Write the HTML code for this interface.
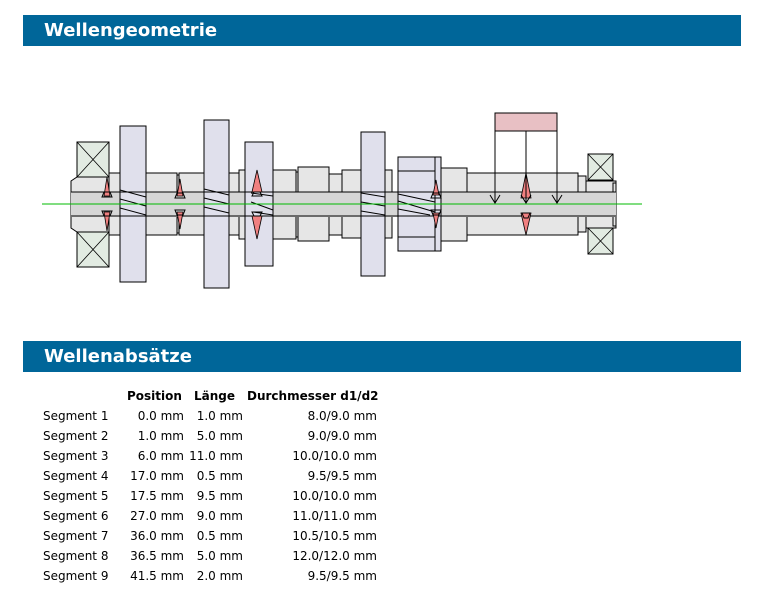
<!DOCTYPE html>
<html><head><meta charset="utf-8">
<style>
html,body{margin:0;padding:0;background:#fff;width:763px;height:590px;overflow:hidden;position:relative;font-family:"DejaVu Sans","Liberation Sans",sans-serif;}
.bar{position:absolute;left:23px;width:718px;height:31px;background:#006699;color:#fff;font-weight:bold;font-size:18px;line-height:31px;}
.bar span{position:absolute;left:21px;top:0;}
.t{position:absolute;font-size:12px;color:#000;white-space:nowrap;line-height:14px;}
.r{text-align:right;}
</style></head><body>
<div class="bar" style="top:15px"><span>Wellengeometrie</span></div>
<div class="bar" style="top:341px"><span>Wellenabsätze</span></div>

<svg width="763" height="590" style="position:absolute;left:0;top:0" xmlns="http://www.w3.org/2000/svg">
<g stroke="#000" stroke-width="1" fill="#e6e6e6">
<polygon points="71,181 77,177 109,177 109,232 77,232 71,228"/>
<rect x="109" y="173" width="68" height="62"/>
<rect x="177" y="175" width="2" height="58"/>
<rect x="179" y="173" width="60" height="62"/>
<rect x="239" y="170" width="57" height="69"/>
<rect x="296" y="172" width="2" height="65"/>
<rect x="298" y="167" width="31" height="74"/>
<rect x="329" y="174" width="13" height="61"/>
<rect x="342" y="170" width="50" height="68"/>
<rect x="441" y="168" width="26" height="73"/>
<rect x="467" y="173" width="111" height="62"/>
<rect x="578" y="176" width="8" height="56"/>
<rect x="586" y="181" width="30" height="47"/>
<rect x="613" y="183" width="3" height="43"/>
</g>
<rect x="71" y="192" width="545" height="25" fill="#d6d6d6" stroke="none"/>
<g stroke="#000" fill="#e2ebe2">
<rect x="77" y="142" width="32" height="35"/><rect x="77" y="232" width="32" height="35"/>
<rect x="588" y="154" width="25" height="26"/><rect x="588" y="228" width="25" height="26"/>
</g>
<g stroke="#000" stroke-width="0.8">
<line x1="77" y1="142" x2="109" y2="177"/><line x1="109" y1="142" x2="77" y2="177"/>
<line x1="77" y1="232" x2="109" y2="267"/><line x1="109" y1="232" x2="77" y2="267"/>
<line x1="588" y1="154" x2="613" y2="180"/><line x1="613" y1="154" x2="588" y2="180"/>
<line x1="588" y1="228" x2="613" y2="254"/><line x1="613" y1="228" x2="588" y2="254"/>
</g>
<g stroke="#000" fill="#e0e0ec">
<rect x="120" y="126" width="26" height="156"/>
<rect x="204" y="120" width="25" height="168"/>
<rect x="245" y="142" width="28" height="124"/>
<rect x="361" y="132" width="24" height="144"/>
<rect x="398" y="157" width="43" height="94"/>
</g>
<line x1="71" y1="192" x2="616" y2="192" stroke="#000"/>
<line x1="71" y1="216" x2="616" y2="216" stroke="#000"/>
<g stroke="#000" stroke-width="1" fill="none">
<line x1="398" y1="171" x2="435" y2="171"/><line x1="398" y1="237" x2="435" y2="237"/>
<line x1="435" y1="157" x2="435" y2="251"/>
<path d="M120,190 L146,197 M120,199 L146,206 M120,208 L146,215"/>
<path d="M204,189 L229,195 M204,198 L229,204 M204,207 L229,213"/>
<path d="M251,193 L273,196 M251,202 L273,210 M253,212 L273,215"/>
<path d="M361,193 L385,197 M361,202 L385,206 M361,211 L385,215"/>
<path d="M398,194 L435,202 M398,201 L435,212 M398,209 L430,215"/>
</g>
<line x1="42" y1="204" x2="642" y2="204" stroke="#00bb00" stroke-width="1"/>
<g stroke="#000" stroke-width="0.8" fill="#f08080">
<polygon points="107,177 104,196 110,196"/><polygon points="107,231 104,212 110,212"/>
<polygon points="180,179 177,196 183,196"/><polygon points="180,229 177,212 183,212"/>
<polygon points="257,170 252,192 262,192"/><polygon points="257,239 252,216 262,216"/>
<polygon points="436,180 433,195 439,195"/><polygon points="436,228 433,213 439,213"/>
<polygon points="526,173 521,198 531,198"/><polygon points="526,235 521,213 531,213"/>
</g>
<g stroke="#000" fill="none" stroke-width="1">
<path d="M104,192 L110,192 L112,197 L102,197Z M104,216 L110,216 L112,211 L102,211Z"/>
<path d="M177,193 L183,193 L185,198 L175,198Z M177,215 L183,215 L185,210 L175,210Z"/>
<path d="M254,192 L260,192 L262,196 L252,196Z M254,216 L260,216 L262,212 L252,212Z"/>
<path d="M433,193 L439,193 L441,198 L431,198Z M433,215 L439,215 L441,210 L431,210Z"/>
<path d="M522,213 L530,213 L528,218 L524,218Z"/>
</g>
<rect x="495" y="113" width="62" height="18" fill="#e8c0c4" stroke="#000"/>
<g stroke="#000" fill="none">
<line x1="495" y1="131" x2="495" y2="203"/><line x1="526" y1="131" x2="526" y2="203"/><line x1="557" y1="131" x2="557" y2="203"/>
<path d="M490,195 L495,203 L500,195 M521,195 L526,203 L531,195 M552,195 L557,203 L562,195"/>
</g>
</svg>

<div class="t" style="left:127px;top:389px;font-weight:bold">Position</div>
<div class="t" style="left:194px;top:389px;font-weight:bold">Länge</div>
<div class="t" style="left:247px;top:389px;font-weight:bold">Durchmesser d1/d2</div>

<div class="t" style="left:43px;top:406px;line-height:20px">Segment 1<br>Segment 2<br>Segment 3<br>Segment 4<br>Segment 5<br>Segment 6<br>Segment 7<br>Segment 8<br>Segment 9</div>
<div class="t r" style="left:110px;width:74px;top:406px;line-height:20px">0.0 mm<br>1.0 mm<br>6.0 mm<br>17.0 mm<br>17.5 mm<br>27.0 mm<br>36.0 mm<br>36.5 mm<br>41.5 mm</div>
<div class="t r" style="left:180px;width:63px;top:406px;line-height:20px">1.0 mm<br>5.0 mm<br>11.0 mm<br>0.5 mm<br>9.5 mm<br>9.0 mm<br>0.5 mm<br>5.0 mm<br>2.0 mm</div>
<div class="t r" style="left:260px;width:117px;top:406px;line-height:20px">8.0/9.0 mm<br>9.0/9.0 mm<br>10.0/10.0 mm<br>9.5/9.5 mm<br>10.0/10.0 mm<br>11.0/11.0 mm<br>10.5/10.5 mm<br>12.0/12.0 mm<br>9.5/9.5 mm</div>
</body></html>
